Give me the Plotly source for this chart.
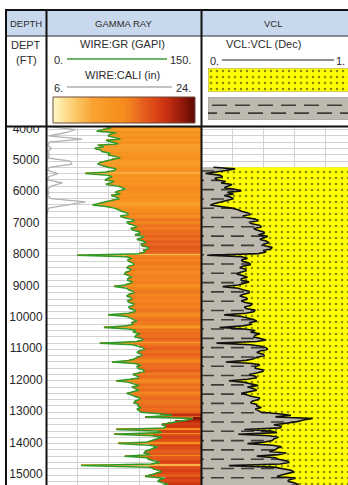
import numpy as np
import plotly.graph_objects as go

W, H = 348, 485

# ---------------- log data (50 ft samples) ----------------
depth_ft = list(range(3900, 15450, 50))
gr_gapi = [
    58, 63, 55, 49, 68, 62, 60, 66, 72, 58,        # 3900-4350
    64, 70, 50, 56, 47, 53, 54, 62, 60, 66,        # 4400-4850
    72, 64, 57, 52, 50, 55, 60, 68, 66, 58,        # 4900-5350
    38, 60, 64, 60, 57, 66, 62, 58, 70, 74,        # 5400-5850
    77, 70, 67, 72, 63, 68, 71, 64, 57, 52,        # 5900-6350
    45, 58, 66, 70, 73, 78, 80, 72, 75, 82,        # 6400-6850
    86, 78, 80, 85, 88, 82, 84, 90, 91, 86,        # 6900-7350
    95, 92, 88, 94, 97, 92, 93, 99, 99, 94,        # 7400-7850
    96, 90, 30, 78, 83, 79, 80, 84, 85, 80,        # 7900-8350
    78, 82, 81, 77, 76, 80, 83, 79, 79, 84,        # 8400-8850
    81, 76, 66, 78, 80, 84, 85, 80, 78, 82,        # 8900-9350
    83, 79, 80, 85, 84, 80, 81, 86, 86, 80,        # 9400-9850
    60, 78, 82, 86, 88, 83, 84, 78, 56, 80,        # 9900-10350
    87, 84, 91, 87, 86, 92, 94, 88, 52, 84,        # 10400-10850
    90, 94, 95, 90, 88, 92, 93, 88, 86, 80,        # 10900-11350
    64, 86, 92, 88, 89, 94, 95, 90, 84, 88,        # 11400-11850
    90, 82, 68, 80, 86, 90, 83, 86, 90, 84,        # 11900-12350
    78, 83, 86, 91, 90, 86, 85, 89, 89, 92,        # 12400-12850
    88, 90, 92, 110, 122, 96, 142, 136, 125, 118,  # 12900-13350
    112, 116, 114, 68, 108, 112, 66, 104, 112, 108,  # 13400-13850
    104, 98, 70, 100, 108, 104, 102, 96, 95, 101,  # 13900-14350
    76, 98, 99, 106, 110, 102, 34, 100, 104, 110,  # 14400-14850
    112, 106, 100, 96, 115, 110, 108, 114, 118, 110,  # 14900-15350
    112,                                           # 15400
]

vcl_depth_ft = list(range(5200, 15450, 50))
vcl_dec = [
    0.08, 0.22, 0.16, 0.10, 0.03, 0.12, 0.14, 0.09, 0.10, 0.16,   # 5200-5650
    0.13, 0.20, 0.18, 0.15, 0.22, 0.26, 0.17, 0.21, 0.15, 0.19,   # 5700-6150
    0.21, 0.17, 0.12, 0.09, 0.06, 0.15, 0.20, 0.24, 0.26, 0.30,   # 6200-6650
    0.32, 0.27, 0.29, 0.35, 0.37, 0.31, 0.33, 0.38, 0.39, 0.34,   # 6700-7150
    0.36, 0.40, 0.41, 0.37, 0.43, 0.40, 0.38, 0.42, 0.44, 0.40,   # 7200-7650
    0.41, 0.46, 0.45, 0.40, 0.42, 0.37, 0.04, 0.26, 0.30, 0.26,   # 7700-8150
    0.27, 0.31, 0.32, 0.27, 0.25, 0.29, 0.29, 0.25, 0.23, 0.27,   # 8200-8650
    0.30, 0.26, 0.26, 0.31, 0.28, 0.24, 0.14, 0.24, 0.27, 0.31,   # 8700-9150
    0.31, 0.27, 0.25, 0.29, 0.30, 0.26, 0.28, 0.33, 0.32, 0.28,   # 9200-9650
    0.29, 0.35, 0.34, 0.29, 0.15, 0.26, 0.30, 0.34, 0.36, 0.31,   # 9700-10150
    0.33, 0.27, 0.12, 0.28, 0.35, 0.32, 0.38, 0.35, 0.34, 0.39,   # 10200-10650
    0.42, 0.36, 0.10, 0.32, 0.39, 0.42, 0.43, 0.38, 0.36, 0.40,   # 10700-11150
    0.41, 0.36, 0.34, 0.29, 0.16, 0.33, 0.38, 0.35, 0.35, 0.40,   # 11200-11650
    0.40, 0.36, 0.31, 0.35, 0.36, 0.30, 0.18, 0.28, 0.33, 0.37,   # 11700-12150
    0.30, 0.34, 0.36, 0.31, 0.26, 0.30, 0.33, 0.38, 0.37, 0.33,   # 12200-12650
    0.32, 0.36, 0.36, 0.39, 0.35, 0.37, 0.39, 0.50, 0.58, 0.48,   # 12700-13150
    0.72, 0.66, 0.62, 0.55, 0.47, 0.52, 0.51, 0.28, 0.45, 0.49,   # 13200-13650
    0.24, 0.44, 0.50, 0.47, 0.46, 0.41, 0.30, 0.46, 0.52, 0.49,   # 13700-14150
    0.48, 0.44, 0.55, 0.50, 0.36, 0.48, 0.50, 0.55, 0.57, 0.51,   # 14200-14650
    0.18, 0.47, 0.53, 0.58, 0.60, 0.55, 0.52, 0.49, 0.61, 0.57,   # 14700-15150
    0.56, 0.60, 0.63, 0.57, 0.58,                                 # 15200-15400
]

cali_depth_ft = list(range(3900, 6800, 100))
cali_in = [
    6.2, 9.4, 8.2, 6.3, 10.2, 6.4, 6.2, 6.6, 6.2, 6.4,
    6.2, 8.8, 9.0, 6.4, 6.2, 7.4, 6.3, 6.2, 7.9, 6.6,
    6.2, 6.3, 6.2, 6.6, 10.6, 8.2, 6.3, 6.2, 6.1,
]

depth_labels = [4000, 5000, 6000, 7000, 8000, 9000, 10000,
                11000, 12000, 13000, 14000, 15000]

assert len(gr_gapi) == len(depth_ft)
assert len(vcl_dec) == len(vcl_depth_ft)
assert len(cali_in) == len(cali_depth_ft)

GR_MIN, GR_MAX = 0, 150
CALI_MIN, CALI_MAX = 6, 24
DEPTH_TOP, DEPTH_BASE = 3917, 15318
SAMPLE_STEP = 50

gr_scale = [
    [0.00, "#FFF8C4"], [0.15, "#FDCB6A"], [0.28, "#F9A233"],
    [0.42, "#F7931E"], [0.50, "#F68C1F"], [0.56, "#F07A20"],
    [0.62, "#E8641E"], [0.70, "#DE4C18"], [0.78, "#CE3612"],
    [0.88, "#A4200C"], [1.00, "#5E0A04"],
]

SAND_BG, SAND_DOT = "#FFFF00", "#1A1A00"
SHALE_BG, SHALE_DASH = "#BDB9AE", "#3C3C38"
GRID = "#D2D2D2"
FONT = "Liberation Sans, Arial, sans-serif"


def px(x):
    return x / W


def py(y):
    return 1 - y / H


data_dom = [0, py(127)]
fig = go.Figure()

# ---------------- depth track labels ----------------
fig.add_trace(go.Scatter(
    x=[0.5] * len(depth_labels), y=depth_labels, mode="text",
    text=[str(d) for d in depth_labels],
    textfont=dict(family=FONT, size=12, color="#262626"),
    textposition="middle center", cliponaxis=True, hoverinfo="skip",
    xaxis="x", yaxis="y", showlegend=False))

# ---------------- gamma ray track ----------------
gr_arr = np.array(gr_gapi, dtype=float)
fig.add_trace(go.Bar(
    orientation="h", y=depth_ft, x=GR_MAX - gr_arr, base=gr_arr,
    width=SAMPLE_STEP,
    marker=dict(color=gr_arr, colorscale=gr_scale, cmin=GR_MIN, cmax=GR_MAX,
                line=dict(width=0)),
    xaxis="x2", yaxis="y2", showlegend=False, hoverinfo="skip"))
fig.add_trace(go.Scatter(
    x=cali_in, y=cali_depth_ft, mode="lines",
    line=dict(color="#B2B2B2", width=1.3),
    xaxis="x4", yaxis="y2", showlegend=False, hoverinfo="skip"))
fig.add_trace(go.Scatter(
    x=gr_gapi, y=depth_ft, mode="lines",
    line=dict(color="#2F9A28", width=1.5),
    xaxis="x2", yaxis="y2", showlegend=False, hoverinfo="skip"))

# ---------------- VCL track ----------------
d0, d1 = vcl_depth_ft[0], vcl_depth_ft[-1]
fig.add_trace(go.Scatter(
    x=[0] + vcl_dec + [0], y=[d0] + vcl_depth_ft + [d1],
    mode="none", fill="toself", fillcolor=SHALE_BG,
    xaxis="x3", yaxis="y3", showlegend=False, hoverinfo="skip"))

# shale dashes, clipped to the shale side of the curve
row_x, row_y = [], []
rows = np.arange(d0 + 120, d1, 296)
for i, rd in enumerate(rows):
    right = float(np.interp(rd, vcl_depth_ft, vcl_dec))
    start = 0 if i % 2 == 0 else -0.065
    row_x += [start, right, None]
    row_y += [rd, rd, None]
fig.add_trace(go.Scatter(
    x=row_x, y=row_y, mode="lines",
    line=dict(color=SHALE_DASH, width=1.6, dash="13px,7px"),
    xaxis="x3", yaxis="y3", showlegend=False, hoverinfo="skip"))

fig.add_trace(go.Scatter(
    x=vcl_dec + [1.2, 1.2], y=vcl_depth_ft + [d1, d0],
    mode="none", fill="toself",
    fillpattern=dict(shape=".", bgcolor=SAND_BG, fgcolor=SAND_DOT,
                     size=6, solidity=0.15),
    xaxis="x3", yaxis="y3", showlegend=False, hoverinfo="skip"))
fig.add_trace(go.Scatter(
    x=vcl_dec, y=vcl_depth_ft, mode="lines",
    line=dict(color="#111111", width=1.6),
    xaxis="x3", yaxis="y3", showlegend=False, hoverinfo="skip"))

# ---------------- header legend swatches ----------------
scale_vals = list(range(GR_MIN, GR_MAX + 1))
fig.add_trace(go.Heatmap(
    z=[scale_vals], x=scale_vals, y=[0], colorscale=gr_scale,
    zmin=GR_MIN, zmax=GR_MAX, showscale=False, hoverinfo="skip",
    xaxis="x5", yaxis="y5"))
fig.add_trace(go.Scatter(
    x=[0, 200, 200, 0, 0], y=[0, 0, 1, 1, 0], mode="lines",
    line=dict(color="#A0A0A0", width=1), fill="toself",
    fillpattern=dict(shape=".", bgcolor=SAND_BG, fgcolor=SAND_DOT,
                     size=6, solidity=0.15),
    xaxis="x6", yaxis="y6", showlegend=False, hoverinfo="skip"))
fig.add_trace(go.Scatter(
    x=[0, 200, 200, 0, 0], y=[0, 0, 1, 1, 0], mode="lines",
    line=dict(color="#A0A0A0", width=1), fill="toself", fillcolor=SHALE_BG,
    xaxis="x7", yaxis="y7", showlegend=False, hoverinfo="skip"))
fig.add_trace(go.Scatter(
    x=[4, 200, None, -6, 200], y=[0.64, 0.64, None, 0.3, 0.3], mode="lines",
    line=dict(color=SHALE_DASH, width=1.6, dash="15px,8px"),
    xaxis="x7", yaxis="y7", showlegend=False, hoverinfo="skip"))

hidden = dict(visible=False, fixedrange=True)
grid_y = dict(range=[DEPTH_BASE, DEPTH_TOP], domain=data_dom, showgrid=True,
              gridcolor=GRID, gridwidth=1, dtick=200, tick0=0,
              showticklabels=False, ticks="", zeroline=False, showline=False)

fig.update_layout(
    width=W, height=H, margin=dict(l=0, r=0, t=0, b=0),
    paper_bgcolor="white", plot_bgcolor="white",
    bargap=0, showlegend=False,
    xaxis=dict(domain=[px(6), px(46)], range=[0, 1], **hidden),
    yaxis=dict(domain=data_dom, range=[DEPTH_BASE, DEPTH_TOP], **hidden),
    xaxis2=dict(domain=[px(46), px(201)], range=[GR_MIN, GR_MAX],
                showgrid=True, gridcolor=GRID, dtick=30, tick0=0,
                showticklabels=False, ticks="", zeroline=False, anchor="y2"),
    yaxis2=dict(anchor="x2", **grid_y),
    xaxis4=dict(overlaying="x2", range=[CALI_MIN, CALI_MAX], visible=False,
                anchor="y2"),
    xaxis3=dict(domain=[px(201), 1], range=[0, (W - 201) / 155],
                showgrid=True, gridcolor=GRID, dtick=0.2, tick0=0,
                showticklabels=False, ticks="", zeroline=False, anchor="y3"),
    yaxis3=dict(anchor="x3", **grid_y),
    xaxis5=dict(domain=[px(53), px(195)], range=[-0.5, 150.5], anchor="y5", **hidden),
    yaxis5=dict(domain=[py(123), py(97)], range=[-0.5, 0.5], anchor="x5", **hidden),
    xaxis6=dict(domain=[px(208), 1], range=[0, 140], anchor="y6", **hidden),
    yaxis6=dict(domain=[py(92), py(68)], range=[0, 1], anchor="x6", **hidden),
    xaxis7=dict(domain=[px(208), 1], range=[0, 140], anchor="y7", **hidden),
    yaxis7=dict(domain=[py(120), py(97)], range=[0, 1], anchor="x7", **hidden),
)

shapes = []


def rect(x0, y0, x1, y1, fill, line_color=None, lw=0):
    shapes.append(dict(type="rect", xref="paper", yref="paper",
                       x0=px(x0), x1=px(x1), y0=py(y1), y1=py(y0),
                       fillcolor=fill, line=dict(width=lw, color=line_color or fill),
                       layer="below"))


def hline(x0, x1, y, color, lw):
    shapes.append(dict(type="line", xref="paper", yref="paper",
                       x0=px(x0), x1=px(x1), y0=py(y), y1=py(y),
                       line=dict(color=color, width=lw), layer="above"))


def vline(x, y0, y1, color, lw):
    shapes.append(dict(type="line", xref="paper", yref="paper",
                       x0=px(x), x1=px(x), y0=py(y0), y1=py(y1),
                       line=dict(color=color, width=lw), layer="above"))


rect(6, 10, 350, 36, "#C9D9ED")
# colour-bar frame
shapes.append(dict(type="rect", xref="paper", yref="paper",
                   x0=px(53), x1=px(195), y0=py(123), y1=py(97),
                   line=dict(color="#6A4A3A", width=1), layer="above"))
# header curve keys
hline(67, 167, 59, "#3C9C3A", 1.3)
hline(67, 172, 87, "#AFAFAF", 1.3)
hline(222, 334, 60, "#202020", 1.2)
# frame
hline(5, 350, 10, "#111111", 2)
hline(6, 350, 36, "#2A2A2A", 1)
hline(6, 350, 126.5, "#111111", 2)
vline(6, 10, 486, "#111111", 2)
vline(46.5, 10, 486, "#111111", 2)
vline(201.5, 10, 486, "#111111", 2)

fig.update_layout(shapes=shapes)

anns = []


def text(x, y, s, size, anchor="center", color="#2B2B2B"):
    anns.append(dict(x=px(x), y=py(y), xref="paper", yref="paper", text=s,
                     showarrow=False, xanchor=anchor, yanchor="middle",
                     font=dict(family=FONT, size=size, color=color)))


text(26, 23, "DEPTH", 9.5)
text(123, 23, "GAMMA RAY", 9.5)
text(273, 23, "VCL", 9.5)
text(26, 45, "DEPT", 11)
text(26, 60, "(FT)", 11)
text(122, 44, "WIRE:GR (GAPI)", 11)
text(52, 60, "0.", 11, "left")
text(193, 60, "150.", 11, "right")
text(122, 75, "WIRE:CALI (in)", 11)
text(52, 88, "6.", 11, "left")
text(193, 88, "24.", 11, "right")
text(263, 44, "VCL:VCL (Dec)", 11)
text(208, 61, "0.", 11, "left")
text(347, 61, "1.", 11, "right")
fig.update_layout(annotations=anns)

fig.write_html("out.html")
